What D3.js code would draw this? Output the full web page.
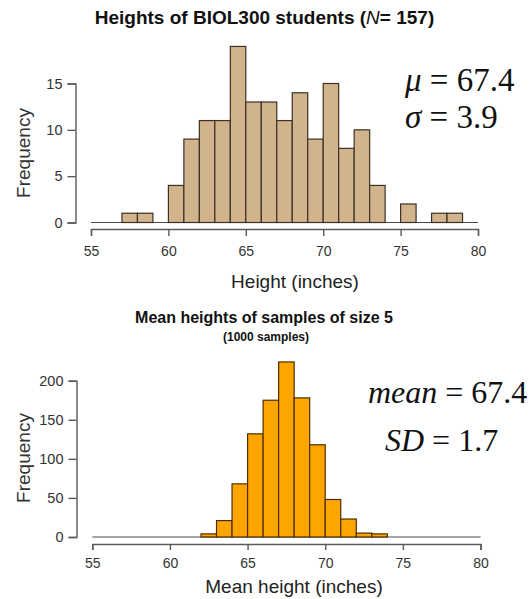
<!DOCTYPE html>
<html>
<head>
<meta charset="utf-8">
<script src="https://cdn.jsdelivr.net/npm/d3@7"></script>
<style>
  body { margin: 0; background: #fff; }
  svg { display: block; }
  .axis path, .axis line { stroke: #5a5a5a; stroke-width: 1.4px; }
  .axis text { fill: #333; font-family: "Liberation Sans", Arial, sans-serif; }
</style>
</head>
<body>
<svg></svg>
<script>
// Size of the page
let width = 532,
    height = 599;

// Bin left edges (inches), shared by both histograms
let binStarts = [55, 56, 57, 58, 59, 60, 61, 62, 63, 64, 65, 66, 67,
                 68, 69, 70, 71, 72, 73, 74, 75, 76, 77, 78, 79];

// Heights of BIOL300 students, counts per 1-inch bin
let heightCounts = [0, 0, 1, 1, 0, 4, 9, 11, 11, 19, 13, 13, 11,
                    14, 9, 15, 8, 10, 4, 0, 2, 0, 1, 1, 0];

// Mean heights of samples of size 5, counts per bin
let meanCounts = [0, 0, 0, 0, 0, 0, 0, 4, 21, 68, 132, 175, 224,
                  178, 118, 48, 23, 5, 4, 0, 0, 0, 0, 0, 0];

// Tick values
let xTicks = [55, 60, 65, 70, 75, 80];
let topYTicks = [0, 5, 10, 15];
let bottomYTicks = [0, 50, 100, 150, 200];

let svg = d3.select("svg")
    .attr("width", width)
    .attr("height", height);

let sans = "'Liberation Sans', Arial, sans-serif";
let serif = "'Liberation Serif', 'Times New Roman', serif";

function drawHistogram(opt) {
    /*
     * Draw one R-style histogram with detached axes
     */
    let x = d3.scaleLinear().domain([55, 80]).range(opt.xRange);
    let y = d3.scaleLinear().domain(opt.yDomain).range(opt.yRange);

    let bins = binStarts.map((b, i) => ({x0: b, x1: b + 1, n: opt.counts[i]}));

    // Empty bins still show as a line along zero, like R's hist()
    svg.append("line")
        .attr("x1", x(binStarts[0]))
        .attr("x2", x(binStarts[binStarts.length - 1] + 1))
        .attr("y1", y(0))
        .attr("y2", y(0))
        .style("stroke", "#4a4a4a")
        .style("stroke-width", "1.2px");

    svg.append("g")
        .selectAll("rect")
        .data(bins.filter(d => d.n > 0))
        .enter()
        .append("rect")
        .attr("x", d => x(d.x0))
        .attr("width", d => x(d.x1) - x(d.x0))
        .attr("y", d => y(d.n))
        .attr("height", d => y(0) - y(d.n))
        .style("fill", opt.fill)
        .style("stroke", opt.stroke)
        .style("stroke-width", "1.2px");

    // x axis, a little below the bars
    let xAxis = svg.append("g")
        .attr("class", "axis")
        .attr("transform", "translate(0," + opt.xAxisY + ")")
        .call(d3.axisBottom(x)
            .tickValues(xTicks)
            .tickSizeOuter(0)
            .tickSize(opt.xTickSize)
            .tickPadding(opt.xTickPad));
    xAxis.selectAll("text").style("font-size", "14px");

    // y axis, left of the bars
    let yAxis = svg.append("g")
        .attr("class", "axis")
        .attr("transform", "translate(" + opt.yAxisX + ",0)")
        .call(d3.axisLeft(y)
            .tickValues(opt.yTicks)
            .tickSizeOuter(0)
            .tickSize(8)
            .tickPadding(5));
    yAxis.selectAll("text").style("font-size", "14.5px");

    // Axis titles
    svg.append("text")
        .attr("x", opt.xTitleX)
        .attr("y", opt.xTitleY)
        .attr("text-anchor", "middle")
        .style("font", "19px " + sans)
        .style("fill", "#222")
        .text(opt.xTitle);

    svg.append("text")
        .attr("transform", "translate(30," + opt.yTitleY + ") rotate(-90)")
        .attr("text-anchor", "middle")
        .style("font", "19px " + sans)
        .style("fill", "#333")
        .text("Frequency");
}

// Top histogram
drawHistogram({
    counts: heightCounts,
    xRange: [91, 478],
    yDomain: [0, 15],
    yRange: [222.5, 83.5],
    yTicks: topYTicks,
    fill: "#D2B48C",
    stroke: "#3b3126",
    xAxisY: 229,
    xTickSize: 7,
    xTickPad: 10,
    yAxisX: 75.5,
    xTitle: "Height (inches)",
    xTitleX: 295,
    xTitleY: 288,
    yTitleY: 153
});

// Bottom histogram
drawHistogram({
    counts: meanCounts,
    xRange: [92.3, 480.5],
    yDomain: [0, 200],
    yRange: [537, 380.7],
    yTicks: bottomYTicks,
    fill: "#FFA500",
    stroke: "#4a3000",
    xAxisY: 544,
    xTickSize: 6,
    xTickPad: 8,
    yAxisX: 76.5,
    xTitle: "Mean height (inches)",
    xTitleX: 294,
    xTitleY: 593,
    yTitleY: 458
});

// Titles
let title1 = svg.append("text")
    .attr("x", 264.5)
    .attr("y", 24)
    .attr("text-anchor", "middle")
    .style("font", "bold 19px " + sans)
    .style("fill", "#111");
title1.append("tspan").text("Heights of BIOL300 students (");
title1.append("tspan").style("font-style", "italic").style("font-weight", "normal").text("N");
title1.append("tspan").text("= 157)");

svg.append("text")
    .attr("x", 264)
    .attr("y", 322.5)
    .attr("text-anchor", "middle")
    .style("font", "bold 16px " + sans)
    .style("fill", "#111")
    .text("Mean heights of samples of size 5");

svg.append("text")
    .attr("x", 266)
    .attr("y", 340.5)
    .attr("text-anchor", "middle")
    .style("font", "bold 12px " + sans)
    .style("fill", "#111")
    .text("(1000 samples)");

// Summary statistics, serif with italic symbols
function statLine(xPos, yPos, sym, rest, size) {
    let t = svg.append("text")
        .attr("x", xPos)
        .attr("y", yPos)
        .style("font", size + "px " + serif)
        .style("fill", "#111");
    t.append("tspan").style("font-style", "italic").text(sym);
    t.append("tspan").text(rest);
}

statLine(405, 90.5, "\u03bc", " = 67.4", 33);
statLine(405, 128, "\u03c3", " = 3.9", 33);
statLine(368, 403, "mean", " = 67.4", 32);
statLine(385, 451, "SD", " = 1.7", 32);
</script>
</body>
</html>
